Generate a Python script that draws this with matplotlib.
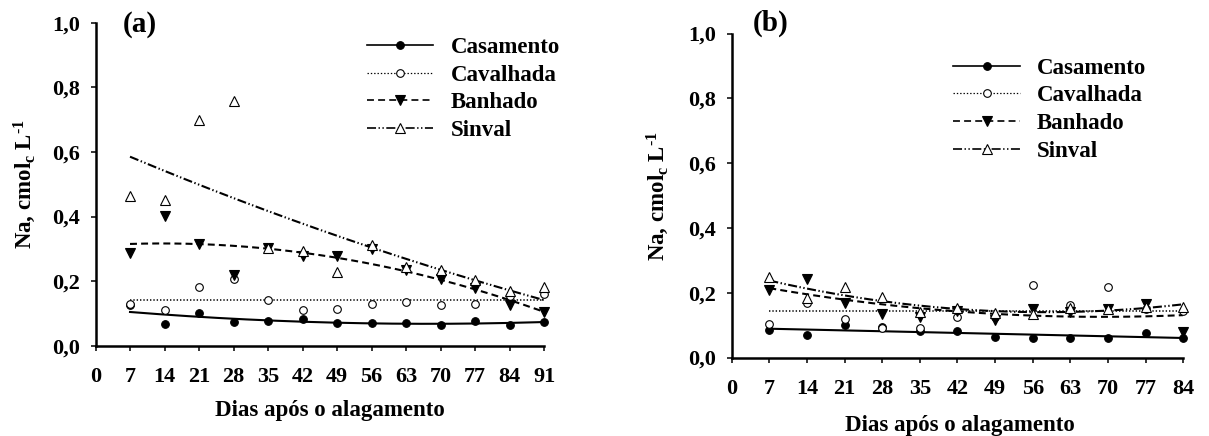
import numpy as np
import matplotlib
matplotlib.use("Agg")
import matplotlib.pyplot as plt
from matplotlib.lines import Line2D
from matplotlib.ticker import FuncFormatter

plt.rcParams['font.family'] = ['Liberation Serif', 'DejaVu Serif']
plt.rcParams['font.weight'] = 'bold'
plt.rcParams['mathtext.fontset'] = 'custom'
plt.rcParams['mathtext.rm'] = 'Liberation Serif:bold'
plt.rcParams['mathtext.it'] = 'Liberation Serif:bold'
plt.rcParams['mathtext.bf'] = 'Liberation Serif:bold'
plt.rcParams['lines.scale_dashes'] = False

# (a) dias 7..91
dias_a = [7, 14, 21, 28, 35, 42, 49, 56, 63, 70, 77, 84, 91]
casamento_a = [0.125, 0.066, 0.100, 0.074, 0.077, 0.083, 0.071, 0.071, 0.071, 0.064, 0.076, 0.063, 0.074]
cavalhada_a = [0.128, 0.110, 0.181, 0.207, 0.140, 0.109, 0.114, 0.129, 0.134, 0.126, 0.130, 0.154, 0.159]
banhado_a = [0.288, 0.401, 0.315, 0.219, 0.301, 0.278, 0.278, 0.298, 0.234, 0.205, 0.178, 0.126, 0.103]
sinval_a = [0.462, 0.450, 0.699, 0.757, 0.304, 0.293, 0.229, 0.312, 0.245, 0.234, 0.203, 0.170, 0.182]

# (b) dias 7..84
dias_b = [7, 14, 21, 28, 35, 42, 49, 56, 63, 70, 77, 84]
casamento_b = [0.085, 0.069, 0.100, 0.095, 0.083, 0.082, 0.062, 0.061, 0.061, 0.061, 0.077, 0.059]
cavalhada_b = [0.103, 0.169, 0.119, 0.090, 0.091, 0.126, 0.125, 0.224, 0.162, 0.219, 0.150, 0.145]
banhado_b = [0.208, 0.241, 0.169, 0.134, 0.124, 0.145, 0.117, 0.149, 0.140, 0.149, 0.164, 0.080]
sinval_b = [0.247, 0.183, 0.217, 0.186, 0.141, 0.152, 0.136, 0.135, 0.152, 0.149, 0.157, 0.157]

nomes = ['Casamento', 'Cavalhada', 'Banhado', 'Sinval']
# grau do polinomio da linha de tendencia
graus_a = [2, 0, 2, 2]
graus_b = [1, 0, 2, 2]

estilos = {
    'Casamento': dict(marker='o', mfc='black', ms=5.5, ls='-', lw=1.5),
    'Cavalhada': dict(marker='o', mfc='white', ms=5.5, ls=(0, (1, 1.4)), lw=1.1),
    'Banhado': dict(marker='v', mfc='black', ms=6.5, ls=(0, (5, 3)), lw=1.5),
    'Sinval': dict(marker='^', mfc='white', ms=6.5, ls=(0, (6.5, 1.8, 1, 1.8, 1, 1.8)), lw=1.5),
}


def painel(ax, dias, series, graus, xmax, letra, leg_pos, letra_pos, ylab_x, xlab_pos):
    for nome, vals, g in zip(nomes, series, graus):
        st = estilos[nome]
        coef = np.polyfit(dias, vals, g)
        xx = np.linspace(dias[0], dias[-1], 200)
        ax.plot(xx, np.polyval(coef, xx), color='black', ls=st['ls'], lw=st['lw'], zorder=2)
    for nome, vals in zip(nomes, series):
        st = estilos[nome]
        ax.plot(dias, vals, ls='none', marker=st['marker'], ms=st['ms'], mfc=st['mfc'],
                mec='black', mew=0.8, clip_on=False, zorder=3)

    ax.set_xlim(0, xmax)
    ax.set_ylim(0, 1.0)
    ax.set_xticks(np.arange(0, xmax + 1, 7))
    ax.set_yticks(np.arange(0, 1.01, 0.2))
    ax.yaxis.set_major_formatter(FuncFormatter(lambda v, p: ('%.1f' % v).replace('.', ',')))
    for s in ['top', 'right']:
        ax.spines[s].set_visible(False)
    for s in ['left', 'bottom']:
        ax.spines[s].set_linewidth(1.8)
    ax.tick_params(axis='both', direction='out', length=3.6, width=1.1, labelsize=16)
    ax.tick_params(axis='x', pad=12)
    ax.tick_params(axis='y', pad=7.5)

    ax.set_ylabel(r'Na, cmol$_\mathrm{c}$ L$^{\text{-1}}$', fontsize=16.5, fontweight='bold')
    ax.yaxis.set_label_coords(ylab_x, 0.5)
    ax.set_xlabel('Dias após o alagamento', fontsize=16.5, fontweight='bold')
    ax.xaxis.set_label_coords(*xlab_pos)
    ax.text(letra_pos[0], letra_pos[1], letra, transform=ax.transAxes, fontsize=21,
            fontweight='bold', ha='center', va='center')

    handles = []
    for nome in nomes:
        st = estilos[nome]
        handles.append(Line2D([], [], color='black', ls=st['ls'], lw=st['lw'] * 0.8,
                              marker=st['marker'], ms=st['ms'], mfc=st['mfc'], mec='black', mew=0.8))
    ax.legend(handles, nomes, loc='upper left', bbox_to_anchor=leg_pos, frameon=False,
              numpoints=1, handlelength=2.9, handletextpad=0.75, labelspacing=0.3,
              borderpad=0, borderaxespad=0, prop={'size': 16.5, 'weight': 'bold'})


fig = plt.figure(figsize=(12.09, 4.36), dpi=100)
ax1 = fig.add_axes([0.0790, 0.2071, 0.3710, 0.7408])
ax2 = fig.add_axes([0.6052, 0.1800, 0.3735, 0.7431])

painel(ax1, dias_a, [casamento_a, cavalhada_a, banhado_a, sinval_a], graus_a, 91, '(a)',
       (0.605, 0.957), (0.099, 0.993), -0.128, (0.523, -0.168))
painel(ax2, dias_b, [casamento_b, cavalhada_b, banhado_b, sinval_b], graus_b, 84, '(b)',
       (0.491, 0.926), (0.087, 1.031), -0.135, (0.505, -0.177))

fig.savefig('out.png', dpi=100)
